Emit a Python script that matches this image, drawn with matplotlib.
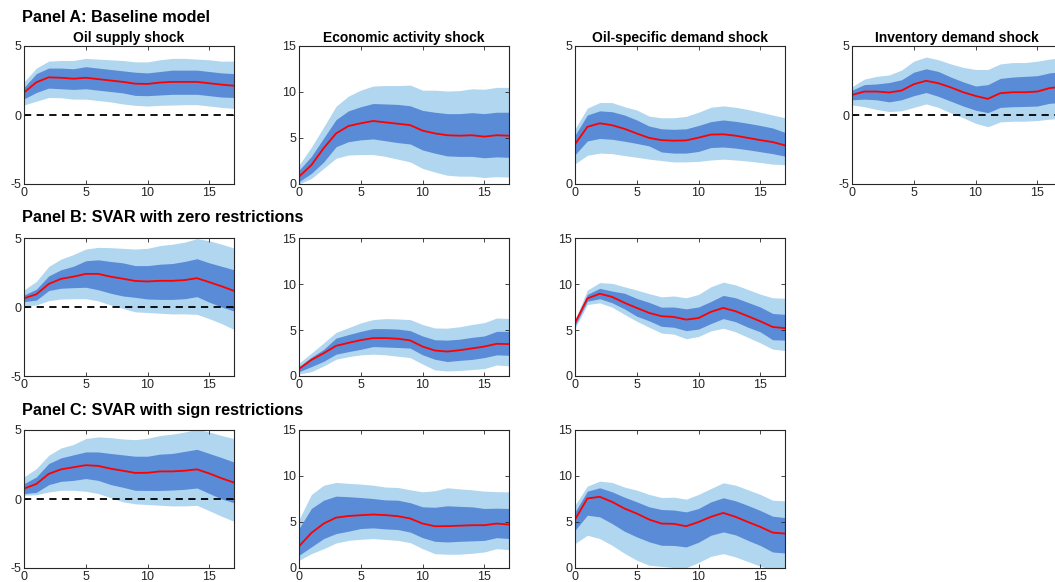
#Impulse responses of the real price of oil to each shock, three model variants
#Red line = median response, dark band = inner credible set, light band = outer set
import numpy as np
import matplotlib.pyplot as plt

plt.rcParams['font.family'] = ['Liberation Sans', 'DejaVu Sans']

horizon = np.arange(18)

#Panel A: baseline model
a_supply_med = [1.63, 2.37, 2.73, 2.7, 2.63, 2.7, 2.6, 2.5, 2.4, 2.27, 2.25, 2.35, 2.4, 2.4, 2.4, 2.3, 2.2, 2.12]
a_supply_in_hi = [2.0, 3.0, 3.4, 3.4, 3.35, 3.5, 3.4, 3.3, 3.2, 3.1, 3.05, 3.15, 3.25, 3.25, 3.25, 3.15, 3.05, 3.0]
a_supply_in_lo = [1.17, 1.63, 1.95, 1.9, 1.85, 1.9, 1.8, 1.7, 1.6, 1.42, 1.4, 1.45, 1.5, 1.5, 1.5, 1.4, 1.3, 1.27]
a_supply_out_hi = [2.4, 3.4, 3.9, 3.95, 3.95, 4.1, 4.05, 4.0, 3.95, 3.85, 3.85, 4.0, 4.1, 4.1, 4.05, 4.0, 3.9, 3.9]
a_supply_out_lo = [0.73, 1.0, 1.27, 1.25, 1.15, 1.15, 1.05, 0.95, 0.8, 0.7, 0.65, 0.7, 0.72, 0.75, 0.75, 0.65, 0.55, 0.48]

a_activity_med = [0.8, 2.05, 3.9, 5.5, 6.3, 6.6, 6.85, 6.7, 6.55, 6.4, 5.8, 5.5, 5.3, 5.25, 5.3, 5.15, 5.3, 5.25]
a_activity_in_hi = [1.5, 3.0, 5.0, 7.0, 7.95, 8.4, 8.75, 8.7, 8.65, 8.5, 8.0, 7.8, 7.65, 7.65, 7.75, 7.65, 7.8, 7.8]
a_activity_in_lo = [0.25, 1.15, 2.4, 4.05, 4.6, 4.8, 4.9, 4.7, 4.5, 4.35, 3.7, 3.35, 3.05, 3.0, 3.0, 2.85, 2.95, 2.9]
a_activity_out_hi = [2.05, 4.0, 6.2, 8.45, 9.55, 10.2, 10.65, 10.7, 10.7, 10.75, 10.2, 10.2, 10.1, 10.15, 10.35, 10.3, 10.5, 10.5]
a_activity_out_lo = [0.0, 0.6, 1.7, 2.8, 3.15, 3.2, 3.2, 3.0, 2.7, 2.4, 1.7, 1.3, 0.95, 0.85, 0.85, 0.7, 0.8, 0.75]

a_oil_med = [1.44, 2.07, 2.2, 2.13, 2.0, 1.83, 1.67, 1.59, 1.57, 1.58, 1.68, 1.79, 1.8, 1.75, 1.67, 1.59, 1.52, 1.4]
a_oil_in_hi = [1.77, 2.5, 2.65, 2.62, 2.5, 2.32, 2.1, 2.0, 1.98, 2.0, 2.12, 2.26, 2.32, 2.27, 2.2, 2.12, 2.03, 1.87]
a_oil_in_lo = [1.06, 1.56, 1.65, 1.62, 1.55, 1.47, 1.38, 1.16, 1.12, 1.12, 1.18, 1.32, 1.34, 1.3, 1.24, 1.17, 1.1, 1.01]
a_oil_out_hi = [2.0, 2.75, 2.95, 2.95, 2.8, 2.68, 2.46, 2.4, 2.4, 2.45, 2.6, 2.78, 2.83, 2.78, 2.7, 2.6, 2.5, 2.4]
a_oil_out_lo = [0.73, 1.04, 1.12, 1.1, 1.03, 0.97, 0.9, 0.85, 0.8, 0.8, 0.82, 0.87, 0.9, 0.87, 0.83, 0.78, 0.72, 0.7]

a_inv_med = [1.45, 1.7, 1.7, 1.63, 1.77, 2.23, 2.48, 2.3, 2.0, 1.65, 1.38, 1.17, 1.58, 1.65, 1.65, 1.7, 1.95, 2.05]
a_inv_in_hi = [1.8, 2.2, 2.25, 2.35, 2.55, 3.1, 3.35, 3.15, 2.75, 2.4, 2.1, 2.2, 2.65, 2.75, 2.8, 2.85, 3.05, 3.15]
a_inv_in_lo = [1.1, 1.15, 1.1, 0.95, 1.1, 1.4, 1.63, 1.35, 1.0, 0.65, 0.35, 0.17, 0.55, 0.6, 0.62, 0.65, 0.85, 0.9]
a_inv_out_hi = [2.05, 2.6, 2.8, 2.9, 3.25, 3.9, 4.2, 4.0, 3.7, 3.45, 3.3, 3.3, 3.7, 3.8, 3.8, 3.9, 4.05, 4.15]
a_inv_out_lo = [0.73, 0.6, 0.4, 0.25, 0.3, 0.55, 0.8, 0.55, 0.15, -0.2, -0.6, -0.85, -0.5, -0.45, -0.45, -0.4, -0.3, -0.25]

#Panel B: SVAR with zero restrictions
b_supply_med = [0.63, 0.92, 1.67, 2.04, 2.2, 2.4, 2.4, 2.2, 2.05, 1.89, 1.85, 1.9, 1.9, 1.95, 2.09, 1.8, 1.5, 1.17]
b_supply_in_hi = [0.87, 1.29, 2.25, 2.7, 2.95, 3.35, 3.42, 3.3, 3.2, 3.0, 3.0, 3.1, 3.15, 3.3, 3.5, 3.2, 2.95, 2.7]
b_supply_in_lo = [0.39, 0.5, 1.19, 1.36, 1.4, 1.43, 1.25, 1.0, 0.8, 0.7, 0.58, 0.55, 0.55, 0.6, 0.75, 0.35, 0.0, -0.29]
b_supply_out_hi = [1.24, 1.85, 2.94, 3.47, 3.8, 4.2, 4.32, 4.3, 4.25, 4.2, 4.25, 4.45, 4.55, 4.7, 4.95, 4.8, 4.55, 4.27]
b_supply_out_lo = [0.07, 0.15, 0.46, 0.58, 0.6, 0.6, 0.45, 0.15, -0.1, -0.35, -0.4, -0.45, -0.5, -0.5, -0.53, -0.85, -1.2, -1.63]

b_activity_med = [0.77, 1.75, 2.48, 3.28, 3.6, 3.9, 4.12, 4.12, 4.05, 3.87, 3.2, 2.77, 2.66, 2.8, 3.0, 3.2, 3.5, 3.47]
b_activity_in_hi = [1.02, 2.04, 2.9, 4.12, 4.5, 4.85, 5.15, 5.15, 5.1, 4.93, 4.35, 3.94, 3.9, 4.0, 4.2, 4.35, 4.85, 4.85]
b_activity_in_lo = [0.47, 1.02, 1.6, 2.37, 2.65, 2.9, 3.2, 3.15, 3.1, 3.03, 2.3, 1.82, 1.57, 1.7, 1.8, 2.0, 2.3, 2.25]
b_activity_out_hi = [1.39, 2.48, 3.6, 4.74, 5.25, 5.77, 6.13, 6.24, 6.2, 6.13, 5.6, 5.22, 5.2, 5.35, 5.6, 5.8, 6.3, 6.25]
b_activity_out_lo = [0.22, 0.47, 1.1, 1.82, 2.1, 2.3, 2.37, 2.3, 2.15, 2.0, 1.3, 0.66, 0.55, 0.6, 0.7, 0.8, 1.2, 1.1]

b_oil_med = [5.77, 8.43, 8.94, 8.6, 7.96, 7.4, 6.86, 6.5, 6.42, 6.13, 6.3, 6.97, 7.4, 7.04, 6.5, 5.95, 5.33, 5.2]
b_oil_in_hi = [6.0, 8.87, 9.53, 9.23, 9.0, 8.43, 8.0, 7.48, 7.5, 7.3, 7.5, 8.1, 8.76, 8.5, 8.0, 7.5, 6.8, 6.7]
b_oil_in_lo = [5.47, 8.13, 8.4, 7.96, 7.3, 6.5, 6.0, 5.4, 5.3, 4.93, 5.1, 5.7, 6.24, 5.9, 5.3, 4.8, 3.94, 3.9]
b_oil_out_hi = [6.13, 9.34, 10.15, 10.07, 9.7, 9.34, 8.95, 8.6, 8.7, 8.5, 8.87, 9.7, 10.2, 9.9, 9.4, 8.9, 8.5, 8.45]
b_oil_out_lo = [5.2, 7.77, 7.95, 7.48, 6.7, 5.95, 5.3, 4.67, 4.55, 4.05, 4.3, 4.9, 5.2, 4.8, 4.2, 3.6, 2.92, 2.77]

#Panel C: SVAR with sign restrictions
c_supply_med = [0.75, 1.09, 1.82, 2.15, 2.3, 2.45, 2.4, 2.2, 2.05, 1.89, 1.9, 2.0, 2.0, 2.05, 2.15, 1.85, 1.5, 1.19]
c_supply_in_hi = [1.11, 1.6, 2.57, 2.98, 3.2, 3.41, 3.41, 3.3, 3.2, 3.1, 3.1, 3.25, 3.3, 3.45, 3.6, 3.3, 3.0, 2.68]
c_supply_in_lo = [0.39, 0.48, 1.04, 1.28, 1.35, 1.48, 1.35, 1.05, 0.85, 0.63, 0.62, 0.62, 0.65, 0.7, 0.8, 0.4, 0.0, -0.27]
c_supply_out_hi = [1.6, 2.2, 3.17, 3.7, 3.95, 4.38, 4.5, 4.45, 4.35, 4.3, 4.4, 4.6, 4.7, 4.85, 5.06, 4.85, 4.6, 4.38]
c_supply_out_lo = [0.27, 0.31, 0.51, 0.63, 0.63, 0.56, 0.4, 0.1, -0.2, -0.35, -0.4, -0.45, -0.5, -0.5, -0.46, -0.85, -1.25, -1.62]

c_activity_med = [2.36, 3.81, 4.83, 5.48, 5.65, 5.74, 5.81, 5.75, 5.63, 5.38, 4.83, 4.54, 4.55, 4.6, 4.65, 4.65, 4.83, 4.72]
c_activity_in_hi = [4.29, 6.47, 7.37, 7.81, 7.75, 7.66, 7.55, 7.4, 7.37, 7.1, 6.65, 6.6, 6.76, 6.7, 6.65, 6.47, 6.5, 6.47]
c_activity_in_lo = [1.38, 2.29, 3.2, 3.74, 4.0, 4.29, 4.36, 4.25, 4.18, 3.9, 3.3, 2.9, 2.83, 2.9, 2.95, 3.0, 3.3, 3.2]
c_activity_out_hi = [5.27, 7.99, 9.0, 9.3, 9.2, 9.12, 9.0, 8.8, 8.75, 8.5, 8.28, 8.4, 8.72, 8.6, 8.5, 8.35, 8.3, 8.28]
c_activity_out_lo = [0.84, 1.56, 2.1, 2.72, 3.0, 3.12, 3.2, 3.1, 3.0, 2.76, 2.1, 1.56, 1.49, 1.5, 1.6, 1.74, 2.1, 2.0]

c_oil_med = [5.27, 7.56, 7.74, 7.19, 6.47, 5.92, 5.27, 4.83, 4.8, 4.54, 5.0, 5.56, 5.99, 5.56, 5.0, 4.47, 3.85, 3.74]
c_oil_in_hi = [6.1, 8.35, 8.72, 8.28, 7.7, 7.19, 6.65, 6.36, 6.3, 6.1, 6.47, 7.19, 7.63, 7.3, 6.8, 6.25, 5.63, 5.48]
c_oil_in_lo = [4.1, 5.74, 5.56, 4.83, 4.0, 3.38, 2.85, 2.47, 2.45, 2.29, 2.8, 3.56, 3.92, 3.6, 3.0, 2.45, 1.74, 1.63]
c_oil_out_hi = [6.83, 8.9, 9.44, 9.3, 8.8, 8.46, 8.0, 7.66, 7.7, 7.48, 8.0, 8.64, 9.26, 9.0, 8.5, 8.0, 7.37, 7.3]
c_oil_out_lo = [2.65, 3.56, 3.2, 2.47, 1.6, 0.84, 0.3, 0.18, 0.05, 0.03, 0.6, 1.27, 1.56, 1.2, 0.7, 0.2, -0.2, -0.3]

panel_titles = ['Panel A: Baseline model', 'Panel B: SVAR with zero restrictions', 'Panel C: SVAR with sign restrictions']
shock_titles = ['Oil supply shock', 'Economic activity shock', 'Oil-specific demand shock', 'Inventory demand shock']

#(row, col, median, inner hi, inner lo, outer hi, outer lo, y limits, y ticks, zero line)
panels = [
    (0, 0, a_supply_med, a_supply_in_hi, a_supply_in_lo, a_supply_out_hi, a_supply_out_lo, (-5, 5), [-5, 0, 5], True),
    (0, 1, a_activity_med, a_activity_in_hi, a_activity_in_lo, a_activity_out_hi, a_activity_out_lo, (0, 15), [0, 5, 10, 15], False),
    (0, 2, a_oil_med, a_oil_in_hi, a_oil_in_lo, a_oil_out_hi, a_oil_out_lo, (0, 5), [0, 5], False),
    (0, 3, a_inv_med, a_inv_in_hi, a_inv_in_lo, a_inv_out_hi, a_inv_out_lo, (-5, 5), [-5, 0, 5], True),
    (1, 0, b_supply_med, b_supply_in_hi, b_supply_in_lo, b_supply_out_hi, b_supply_out_lo, (-5, 5), [-5, 0, 5], True),
    (1, 1, b_activity_med, b_activity_in_hi, b_activity_in_lo, b_activity_out_hi, b_activity_out_lo, (0, 15), [0, 5, 10, 15], False),
    (1, 2, b_oil_med, b_oil_in_hi, b_oil_in_lo, b_oil_out_hi, b_oil_out_lo, (0, 15), [0, 5, 10, 15], False),
    (2, 0, c_supply_med, c_supply_in_hi, c_supply_in_lo, c_supply_out_hi, c_supply_out_lo, (-5, 5), [-5, 0, 5], True),
    (2, 1, c_activity_med, c_activity_in_hi, c_activity_in_lo, c_activity_out_hi, c_activity_out_lo, (0, 15), [0, 5, 10, 15], False),
    (2, 2, c_oil_med, c_oil_in_hi, c_oil_in_lo, c_oil_out_hi, c_oil_out_lo, (0, 15), [0, 5, 10, 15], False),
]

light_blue = '#b1d6ef'
dark_blue = '#5a8bd7'
tick_colour = '#262626'

W, H = 1055, 582
col_left = [24, 299, 575, 852]
row_top = [46, 238, 430]
ax_w, ax_h = 210, 138

fig = plt.figure(figsize=(W / 100, H / 100), dpi=100)

for row, col, med, in_hi, in_lo, out_hi, out_lo, ylim, yticks, zero_line in panels:
    rect = [col_left[col] / W, 1 - (row_top[row] + ax_h) / H, ax_w / W, ax_h / H]
    ax = fig.add_axes(rect)
    ax.fill_between(horizon, out_lo, out_hi, color=light_blue, linewidth=0)
    ax.fill_between(horizon, in_lo, in_hi, color=dark_blue, linewidth=0)
    ax.plot(horizon, med, color='red', linewidth=1.3)
    if zero_line:
        ax.axhline(0, color='black', linestyle=(0, (4, 3)), linewidth=1.3)
    ax.set_xlim(0, 17)
    ax.set_ylim(*ylim)
    ax.set_xticks([0, 5, 10, 15])
    ax.set_yticks(yticks)
    ax.set_yticklabels([str(t) for t in yticks])
    ax.tick_params(direction='in', length=3, width=0.6, labelsize=9, colors=tick_colour,
                   top=True, right=True, pad=2)
    for spine in ax.spines.values():
        spine.set_linewidth(0.8)
        spine.set_color(tick_colour)
    if row == 0:
        ax.set_title(shock_titles[col], fontsize=10, fontweight='bold', pad=3)

for i, title in enumerate(panel_titles):
    y_px = [18, 217, 410][i]
    fig.text(22 / W, 1 - y_px / H, title, fontsize=11.7, fontweight='bold', ha='left', va='center')

plt.savefig('out.png', dpi=100)
